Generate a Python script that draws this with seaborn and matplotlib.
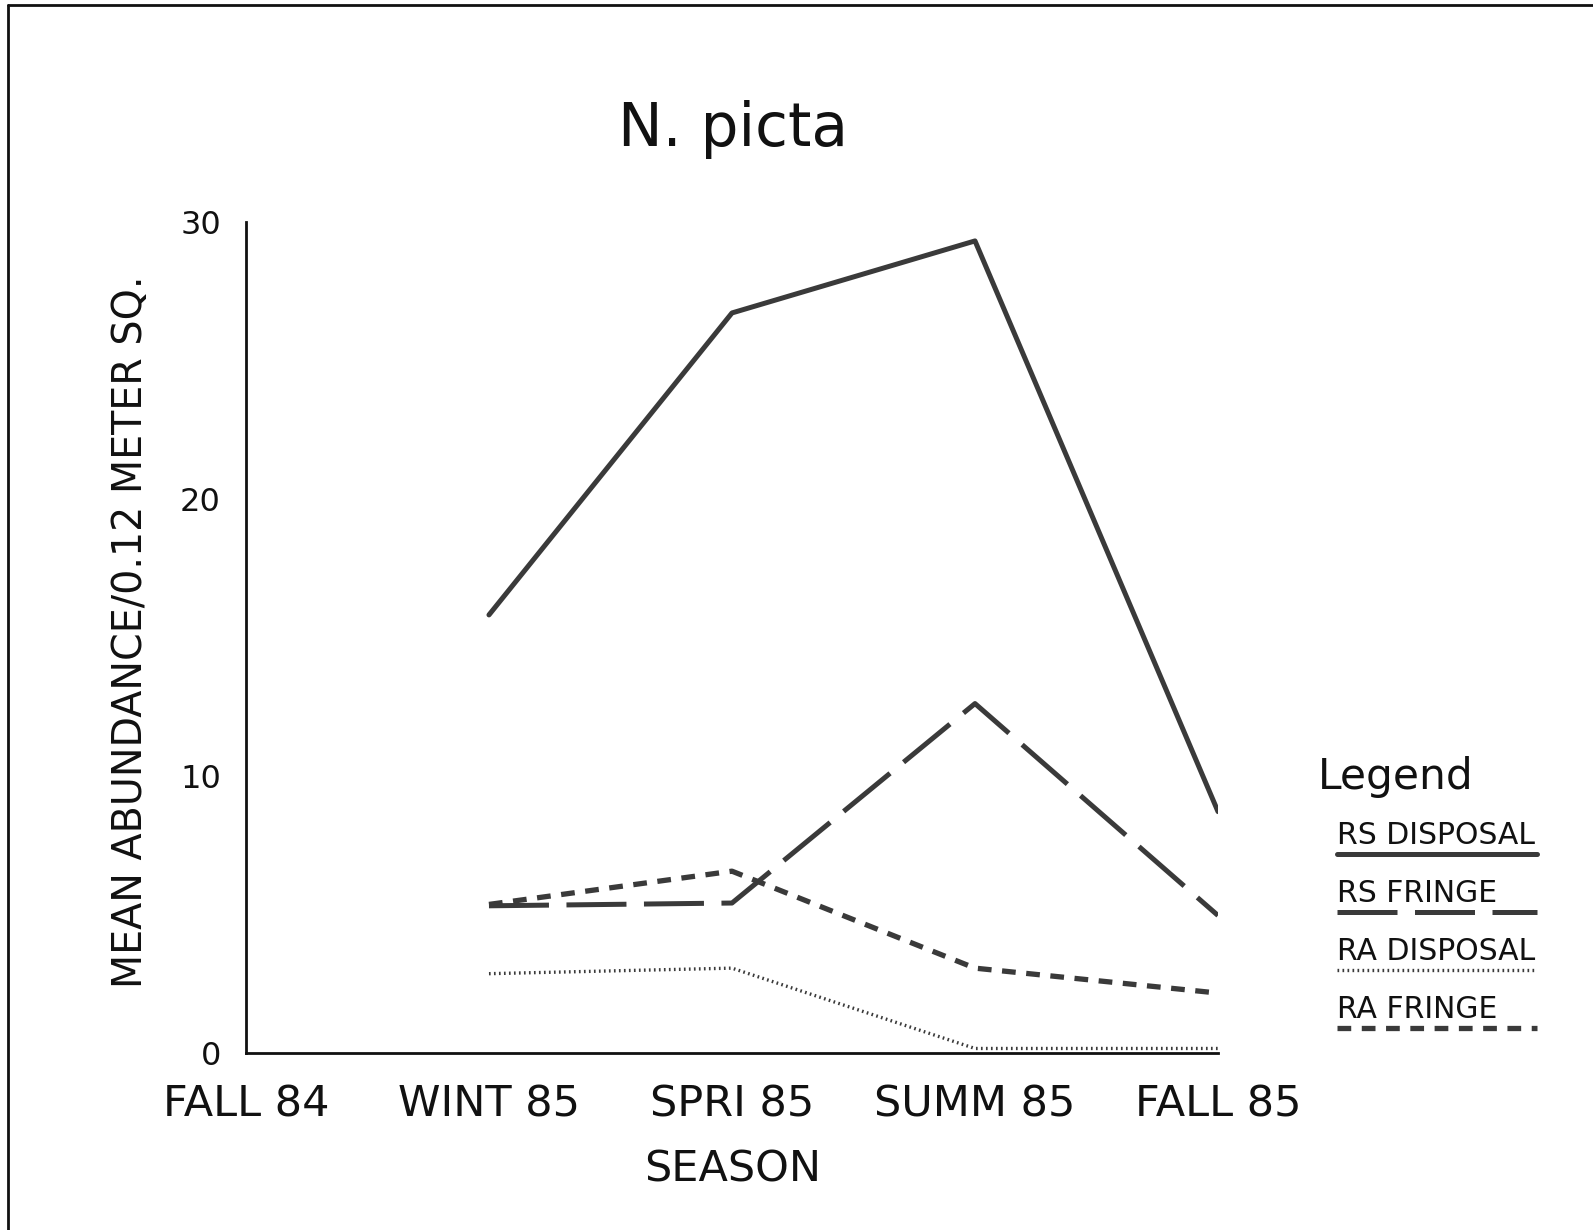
import numpy as np
import pandas as pd
import seaborn as sns
import matplotlib.pyplot as plt
from matplotlib.lines import Line2D

# seasons on the x axis
seasons = ["FALL 84", "WINT 85", "SPRI 85", "SUMM 85", "FALL 85"]

# mean abundance per series (no sample in FALL 84)
rs_disposal = [np.nan, 15.8, 26.7, 29.3, 8.7]
rs_fringe = [np.nan, 5.3, 5.4, 12.6, 4.95]
ra_disposal = [np.nan, 2.85, 3.05, 0.15, 0.15]
ra_fringe = [np.nan, 5.35, 6.55, 3.05, 2.15]

series_names = ["RS DISPOSAL", "RS FRINGE", "RA DISPOSAL", "RA FRINGE"]
yticks = [0, 10, 20, 30]

rows = []
for name, vals in zip(series_names, [rs_disposal, rs_fringe, ra_disposal, ra_fringe]):
    for i, v in enumerate(vals):
        rows.append({"pos": i, "season": seasons[i], "value": v, "series": name})
df = pd.DataFrame(rows).dropna()

sns.set_theme(style="white")
plt.rcParams["font.family"] = ["DejaVu Sans"]

ink = "#3a3a3a"
dash_map = {
    "RS DISPOSAL": "",
    "RS FRINGE": (12, 3.5),
    "RA DISPOSAL": (0.5, 1.0),
    "RA FRINGE": (2.6, 2.0),
}
width_map = {"RS DISPOSAL": 3.6, "RS FRINGE": 3.6, "RA DISPOSAL": 2.4, "RA FRINGE": 3.8}

fig = plt.figure(figsize=(15.93, 12.30), dpi=100)
ax = fig.add_axes([0.1544, 0.1442, 0.6102, 0.6757])

for name in series_names:
    sub = df[df["series"] == name]
    sns.lineplot(data=sub, x="pos", y="value", ax=ax, color=ink,
                 linewidth=width_map[name], dashes=False, legend=False)
    ln = ax.lines[-1]
    if dash_map[name]:
        ln.set_dashes(dash_map[name])

ax.set_xlim(0, 4)
ax.set_ylim(0, 30)
ax.set_xticks(range(len(seasons)))
ax.set_xticklabels(seasons, fontsize=31)
ax.set_yticks(yticks)
ax.set_yticklabels([str(t) for t in yticks], fontsize=23)
ax.tick_params(axis="x", direction="out", length=12, width=2, pad=10, colors="#111111")
ax.tick_params(axis="y", direction="out", length=15, width=2, pad=3, colors="#111111")
ax.set_xlabel("")
ax.set_ylabel("")
for s in ["top", "right"]:
    ax.spines[s].set_visible(False)
for s in ["left", "bottom"]:
    ax.spines[s].set_linewidth(2)
    ax.spines[s].set_color("#111111")

fig.text(0.460, 0.895, "N. picta", fontsize=43, ha="center", va="center", color="#111111")
fig.text(0.460, 0.049, "SEASON", fontsize=31, ha="center", va="center", color="#111111")
fig.text(0.082, 0.486, "MEAN ABUNDANCE/0.12 METER SQ.", fontsize=28.5, rotation=90,
         ha="center", va="center", color="#111111")

# legend drawn by hand: label above its line sample
fig.text(0.827, 0.368, "Legend", fontsize=30.5, ha="left", va="center", color="#111111")
for k, name in enumerate(series_names):
    ty = 0.321 - k * 0.0472
    fig.text(0.839, ty, name, fontsize=21.5, ha="left", va="center", color="#111111")
    ly = ty - 0.0155
    leg_line = Line2D([0.839, 0.965], [ly, ly], transform=fig.transFigure, color=ink,
                      linewidth=width_map[name])
    if dash_map[name]:
        leg_line.set_dashes(dash_map[name])
    fig.add_artist(leg_line)

# page frame (left and top edges)
fig.add_artist(Line2D([0.005, 0.005], [0, 0.996], transform=fig.transFigure, color="#111111", linewidth=2))
fig.add_artist(Line2D([0.005, 1], [0.996, 0.996], transform=fig.transFigure, color="#111111", linewidth=2))

plt.savefig("out.png", dpi=100)
